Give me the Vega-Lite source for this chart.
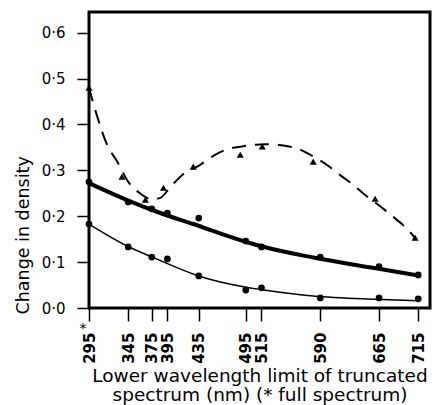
{
  "$schema": "https://vega.github.io/schema/vega-lite/v6.json",
  "width": 341,
  "height": 296,
  "autosize": {"type": "none"},
  "padding": {"left": 89, "top": 12, "right": 4, "bottom": 97},
  "background": "white",
  "config": {"view": {"stroke": "black", "strokeWidth": 3}, "font": "DejaVu Sans"},
  "datasets": {
    "curves": [
      {"series": "A", "wavelength": 295, "density": 0.272},
      {"series": "A", "wavelength": 345, "density": 0.234},
      {"series": "A", "wavelength": 386, "density": 0.207},
      {"series": "A", "wavelength": 428, "density": 0.183},
      {"series": "A", "wavelength": 488, "density": 0.148},
      {"series": "A", "wavelength": 516, "density": 0.134},
      {"series": "A", "wavelength": 581, "density": 0.110},
      {"series": "A", "wavelength": 659, "density": 0.087},
      {"series": "A", "wavelength": 715, "density": 0.071},
      {"series": "B", "wavelength": 295, "density": 0.183},
      {"series": "B", "wavelength": 345, "density": 0.134},
      {"series": "B", "wavelength": 381, "density": 0.107},
      {"series": "B", "wavelength": 433, "density": 0.071},
      {"series": "B", "wavelength": 490, "density": 0.047},
      {"series": "B", "wavelength": 516, "density": 0.040},
      {"series": "B", "wavelength": 581, "density": 0.026},
      {"series": "B", "wavelength": 659, "density": 0.019},
      {"series": "B", "wavelength": 715, "density": 0.016},
      {"series": "C", "wavelength": 295, "density": 0.48},
      {"series": "C", "wavelength": 305, "density": 0.42},
      {"series": "C", "wavelength": 318, "density": 0.356},
      {"series": "C", "wavelength": 331, "density": 0.319},
      {"series": "C", "wavelength": 345, "density": 0.275},
      {"series": "C", "wavelength": 360, "density": 0.25},
      {"series": "C", "wavelength": 375, "density": 0.237},
      {"series": "C", "wavelength": 386, "density": 0.24},
      {"series": "C", "wavelength": 398, "density": 0.262},
      {"series": "C", "wavelength": 414, "density": 0.29},
      {"series": "C", "wavelength": 437, "density": 0.312},
      {"series": "C", "wavelength": 452, "density": 0.33},
      {"series": "C", "wavelength": 470, "density": 0.345},
      {"series": "C", "wavelength": 490, "density": 0.352},
      {"series": "C", "wavelength": 520, "density": 0.357},
      {"series": "C", "wavelength": 556, "density": 0.35},
      {"series": "C", "wavelength": 577, "density": 0.334},
      {"series": "C", "wavelength": 600, "density": 0.31},
      {"series": "C", "wavelength": 615, "density": 0.29},
      {"series": "C", "wavelength": 631, "density": 0.27},
      {"series": "C", "wavelength": 648, "density": 0.245},
      {"series": "C", "wavelength": 664, "density": 0.225},
      {"series": "C", "wavelength": 682, "density": 0.2},
      {"series": "C", "wavelength": 696, "density": 0.18},
      {"series": "C", "wavelength": 711, "density": 0.153}
    ],
    "points": [
      {"series": "A", "wavelength": 295, "density": 0.275},
      {"series": "A", "wavelength": 345, "density": 0.231},
      {"series": "A", "wavelength": 375, "density": 0.216},
      {"series": "A", "wavelength": 395, "density": 0.207},
      {"series": "A", "wavelength": 435, "density": 0.196},
      {"series": "A", "wavelength": 495, "density": 0.146},
      {"series": "A", "wavelength": 515, "density": 0.133},
      {"series": "A", "wavelength": 590, "density": 0.111},
      {"series": "A", "wavelength": 665, "density": 0.09},
      {"series": "A", "wavelength": 715, "density": 0.072},
      {"series": "B", "wavelength": 295, "density": 0.183},
      {"series": "B", "wavelength": 345, "density": 0.133},
      {"series": "B", "wavelength": 375, "density": 0.111},
      {"series": "B", "wavelength": 395, "density": 0.107},
      {"series": "B", "wavelength": 435, "density": 0.07},
      {"series": "B", "wavelength": 495, "density": 0.039},
      {"series": "B", "wavelength": 515, "density": 0.044},
      {"series": "B", "wavelength": 590, "density": 0.022},
      {"series": "B", "wavelength": 665, "density": 0.022},
      {"series": "B", "wavelength": 715, "density": 0.02},
      {"series": "C", "wavelength": 295, "density": 0.48},
      {"series": "C", "wavelength": 337, "density": 0.286},
      {"series": "C", "wavelength": 367, "density": 0.236},
      {"series": "C", "wavelength": 390, "density": 0.262},
      {"series": "C", "wavelength": 428, "density": 0.308},
      {"series": "C", "wavelength": 488, "density": 0.334},
      {"series": "C", "wavelength": 516, "density": 0.352},
      {"series": "C", "wavelength": 581, "density": 0.319},
      {"series": "C", "wavelength": 660, "density": 0.238},
      {"series": "C", "wavelength": 711, "density": 0.153}
    ],
    "notes": [
      {"wavelength": 295, "density": 0, "note": "*"}
    ]
  },
  "encoding": {
    "x": {
      "field": "wavelength",
      "type": "quantitative",
      "scale": {"domain": [295, 730], "nice": false, "zero": false},
      "axis": {
        "values": [295, 345, 375, 395, 435, 495, 515, 590, 665, 715],
        "labelAngle": 270,
        "labelFontSize": 15,
        "labelFontWeight": "bold",
        "labelColor": "black",
        "labelPadding": 11,
        "labelOverlap": false,
        "labelFlush": false,
        "tickColor": "black",
        "tickSize": 13,
        "tickWidth": 1.5,
        "domain": false,
        "grid": false,
        "title": ["Lower wavelength limit of truncated", "spectrum (nm) (* full spectrum)"],
        "titleFontSize": 18.5,
        "titleFontWeight": "normal",
        "titleColor": "black",
        "titleLineHeight": 19,
        "titlePadding": 3
      }
    },
    "y": {
      "field": "density",
      "type": "quantitative",
      "scale": {"domain": [0, 0.645], "nice": false, "zero": true},
      "axis": {
        "values": [0, 0.1, 0.2, 0.3, 0.4, 0.5, 0.6],
        "labelExpr": "replace(format(datum.value, '.1f'), '.', '·')",
        "labelFontSize": 15,
        "labelColor": "black",
        "labelPadding": 12,
        "tickColor": "black",
        "tickSize": 12,
        "tickWidth": 1.5,
        "domain": false,
        "grid": false,
        "title": "Change in density",
        "titleFontSize": 17.5,
        "titleFontWeight": "normal",
        "titleColor": "black",
        "titlePadding": 9,
        "titleAnchor": "start",
        "titleY": 302
      }
    }
  },
  "layer": [
    {
      "data": {"name": "curves"},
      "transform": [{"filter": "datum.series === 'A'"}],
      "mark": {"type": "line", "color": "black", "strokeWidth": 4, "interpolate": "monotone"}
    },
    {
      "data": {"name": "curves"},
      "transform": [{"filter": "datum.series === 'B'"}],
      "mark": {"type": "line", "color": "black", "strokeWidth": 1.5, "interpolate": "monotone"}
    },
    {
      "data": {"name": "curves"},
      "transform": [{"filter": "datum.series === 'C'"}],
      "mark": {"type": "line", "color": "black", "strokeWidth": 2, "strokeDash": [14, 9], "interpolate": "monotone"}
    },
    {
      "data": {"name": "points"},
      "transform": [{"filter": "datum.series !== 'C'"}],
      "mark": {"type": "point", "shape": "circle", "filled": true, "color": "black", "opacity": 1, "size": 45}
    },
    {
      "data": {"name": "points"},
      "transform": [{"filter": "datum.series === 'C'"}],
      "mark": {"type": "point", "shape": "triangle-up", "filled": true, "color": "black", "opacity": 1, "size": 50}
    },
    {
      "data": {"name": "notes"},
      "mark": {"type": "text", "color": "black", "fontSize": 14, "dx": -6, "dy": 25, "align": "center", "baseline": "alphabetic"},
      "encoding": {"text": {"field": "note"}}
    }
  ]
}
